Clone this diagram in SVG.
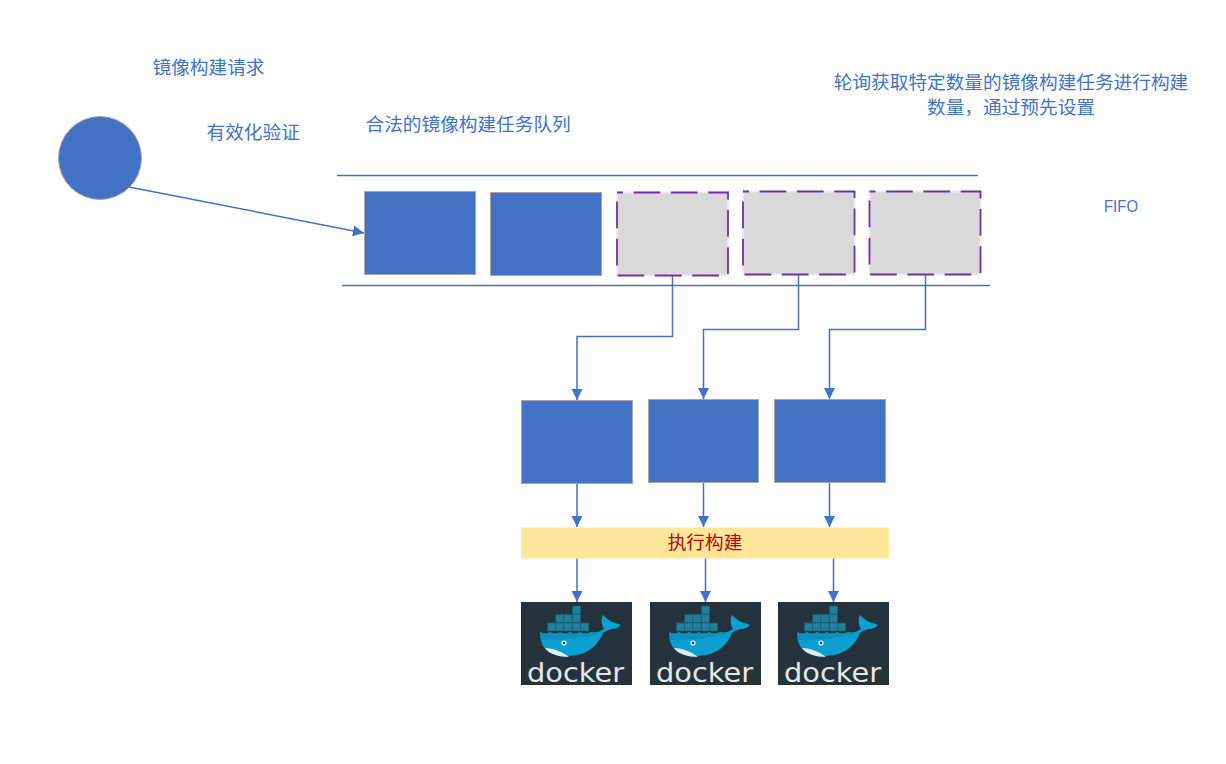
<svg xmlns="http://www.w3.org/2000/svg" xmlns:xlink="http://www.w3.org/1999/xlink" width="1226" height="764" viewBox="0 0 1226 764">
<style>
.lbl{font-family:"Liberation Sans","Noto Sans CJK SC",sans-serif;font-size:18.67px;fill:#4472c4}
.blue{fill:#4472c4;stroke:#a5a5a5;stroke-width:1}
.under{fill:#d9d9d9;stroke:#ececec;stroke-width:1.8}
.gray{fill:none;stroke:#7030a0;stroke-width:1.8;stroke-dasharray:26.7 10.6;stroke-dashoffset:20.7}
.ln{fill:none;stroke:#4472c4;stroke-width:1.5}
.c{fill:none;stroke:#4472c4;stroke-width:1.5;marker-end:url(#a)}
.cr{fill:#1f7f9c;stroke:#175f78;stroke-width:.6}
</style>
<defs>
<marker id="a" markerUnits="userSpaceOnUse" markerWidth="12" markerHeight="12" refX="11" refY="5.500" orient="auto"><path d="M0 0L11 5.500L0 11Z" fill="#4472c4"/></marker>
<g id="docker">
<rect width="111" height="83" fill="#24333b"/>
<g class="crates">
<rect class="cr" x="51.500" y="4" width="8" height="8"/>
<rect class="cr" x="34.800" y="12.500" width="8" height="8"/><rect class="cr" x="43" y="12.500" width="8" height="8"/><rect class="cr" x="51.500" y="12.500" width="8" height="8"/>
<rect class="cr" x="26.500" y="21" width="8" height="8"/><rect class="cr" x="34.800" y="21" width="8" height="8"/><rect class="cr" x="43" y="21" width="8" height="8"/><rect class="cr" x="51.500" y="21" width="8" height="8"/><rect class="cr" x="59.800" y="21" width="8" height="8"/>
</g>
<path d="M19 30Q24 33 29 30Q34 33 39 30Q44 33 49 30Q54 33 59 30Q64 33 70 30C74 31 79 30 83 27C80 22 80 17 82 13C85 16 89 19 91 20C94 21 98 22 100 23C97 26 94 27 91 27C87 28 84 29 82 31C78 42 68 51 56 53C42 56 27 53 22 44C20 40 19 35 19 30Z" fill="#0aa0d0"/>
<path d="M19 30Q24 33 29 30Q34 33 39 30Q44 33 49 30Q54 33 59 30Q64 33 70 30C74 31 77 31 80 30C72 36 40 38 20 38Z" fill="#0a87b3" opacity=".6"/>
<path d="M24 46C32 46 42 50 48 55C38 55 28 52 24 46Z" fill="#dfeef0"/>
<circle cx="43" cy="41" r="2.600" fill="#d9eef2"/><circle cx="43" cy="41" r="1.200" fill="#24333b"/>
<text x="6" y="80" style="font-family:'DejaVu Sans',sans-serif;font-size:26px;fill:#e6e6e6" textLength="97" lengthAdjust="spacingAndGlyphs">docker</text>
</g>
</defs>
<g id="labels">
<text class="lbl" x="152.500" y="74">镜像构建请求</text>
<text class="lbl" x="206.500" y="139">有效化验证</text>
<text class="lbl" x="365.500" y="131">合法的镜像构建任务队列</text>
<text class="lbl" x="1011" y="89" text-anchor="middle">轮询获取特定数量的镜像构建任务进行构建</text>
<text class="lbl" x="1011" y="114" text-anchor="middle">数量，通过预先设置</text>
<text class="lbl" x="1104" y="212" style="font-size:16px" textLength="34" lengthAdjust="spacingAndGlyphs">FIFO</text>
</g>
<g id="connectors">
<path class="ln" d="M337 175.500H978"/>
<path class="ln" d="M342 285.500H990"/>
<path class="c" d="M129 187L364 233"/>
<path class="c" d="M672.500 275V336.500H577V400"/>
<path class="c" d="M798.500 275V329.500H703.500V399"/>
<path class="c" d="M925.500 275V329.500H829.500V399"/>
<path class="c" d="M577 483V527"/>
<path class="c" d="M703.500 482V527"/>
<path class="c" d="M829.500 482V527"/>
<path class="c" d="M577 558V602"/>
<path class="c" d="M705.500 558V602"/>
<path class="c" d="M833.500 558V602"/>
</g>
<g id="request"><circle class="blue" cx="100" cy="158" r="41.500"/></g>
<g id="q1"><rect class="blue" x="364.500" y="191.500" width="111" height="83"/></g>
<g id="q2"><rect class="blue" x="490.500" y="192.500" width="111" height="83"/></g>
<g id="q3"><rect class="under" x="617" y="192.500" width="111" height="83"/><rect class="gray" x="617" y="192.500" width="111" height="83"/></g>
<g id="q4"><rect class="under" x="743" y="191.500" width="111.500" height="83"/><rect class="gray" x="743" y="191.500" width="111.500" height="83"/></g>
<g id="q5"><rect class="under" x="869.500" y="191.500" width="111" height="83"/><rect class="gray" x="869.500" y="191.500" width="111" height="83"/></g>
<g id="w1"><rect class="blue" x="521.500" y="400.500" width="111" height="83"/></g>
<g id="w2"><rect class="blue" x="648.500" y="399.500" width="110" height="83"/></g>
<g id="w3"><rect class="blue" x="774.500" y="399.500" width="111" height="83"/></g>
<g id="build"><rect x="521" y="527.500" width="368" height="31" fill="#ffe699"/>
<text x="705" y="549" text-anchor="middle" style="font-family:'Liberation Sans','Noto Sans CJK SC',sans-serif;font-size:18.67px;fill:#c00000">执行构建</text></g>
<g id="d1"><use xlink:href="#docker" href="#docker" x="521" y="602"/></g>
<g id="d2"><use xlink:href="#docker" href="#docker" x="650" y="602"/></g>
<g id="d3"><use xlink:href="#docker" href="#docker" x="778" y="602"/></g>
</svg>
